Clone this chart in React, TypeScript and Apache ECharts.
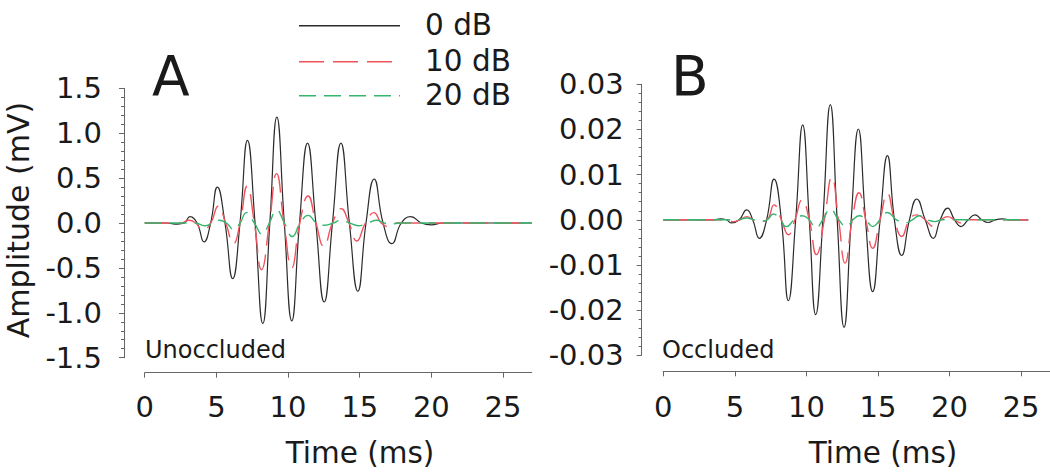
import React, { useEffect, useRef } from 'react';
import * as echarts from 'echarts';

const FONT = '"DejaVu Sans", "Open Sans", sans-serif';

// Panel A (Unoccluded), amplitude in mV
const timeA0 = [0, 1.5, 2.3, 2.75, 3.16, 3.65, 4.14, 4.6, 5.07, 5.6, 6.14, 6.65, 7.17, 7.7, 8.24, 8.73, 9.22, 9.74, 10.26, 10.8, 11.36, 11.94, 12.52, 13.1, 13.69, 14.28, 14.87, 15.44, 16.01, 16.63, 17.25, 17.9, 18.57, 19.3, 20.0, 20.8, 27];
const ampA0 = [0, 0, -0.012, 0, 0.07, 0, -0.21, 0, 0.40, 0, -0.62, 0, 0.92, 0, -1.12, 0, 1.18, 0, -1.09, 0, 0.89, 0, -0.88, 0, 0.89, 0, -0.76, 0, 0.49, 0, -0.23, 0, 0.07, 0, -0.02, 0, 0];

const timeA1 = [0, 2.5, 3.1, 3.55, 4.05, 4.6, 5.14, 5.65, 6.2, 6.65, 7.15, 7.65, 8.15, 8.7, 9.2, 9.72, 10.26, 10.82, 11.4, 11.95, 12.5, 13.1, 13.7, 14.25, 14.8, 15.4, 16.0, 16.5, 17.0, 17.6, 27];
const ampA1 = [0, 0, 0.03, 0, -0.08, 0, 0.19, 0, -0.23, 0, 0.41, 0, -0.52, 0, 0.55, 0, -0.50, 0, 0.30, 0, -0.26, 0, 0.16, 0, -0.20, 0, 0.115, 0, -0.04, 0, 0];

const timeA2 = [0, 3.5, 4.2, 4.75, 5.2, 5.7, 6.2, 6.65, 7.1, 7.65, 8.2, 8.7, 9.2, 9.75, 10.3, 10.85, 11.4, 12.0, 12.6, 13.15, 13.7, 14.3, 14.9, 15.55, 16.2, 16.7, 17.2, 17.8, 27];
const ampA2 = [0, 0, -0.03, 0, 0.03, 0, -0.07, 0, 0.115, 0, -0.125, 0, 0.145, 0, -0.15, 0, 0.085, 0, -0.025, 0, 0.03, 0, -0.03, 0, 0.03, 0, -0.01, 0, 0];

// Panel B (Occluded)
const timeB0 = [0, 3.5, 4.0, 4.4, 4.78, 5.3, 5.83, 6.25, 6.71, 7.22, 7.74, 8.25, 8.74, 9.25, 9.74, 10.2, 10.65, 11.15, 11.67, 12.15, 12.63, 13.13, 13.63, 14.13, 14.63, 15.15, 15.66, 16.15, 16.66, 17.2, 17.71, 18.3, 18.87, 19.35, 19.87, 20.35, 20.8, 21.3, 21.78, 22.25, 22.7, 23.2, 23.7, 24.2, 25.5];
const ampB0 = [0, 0, 0.0002, 0, -0.0007, 0, 0.0022, 0, -0.0041, 0, 0.0090, 0, -0.0179, 0, 0.0210, 0, -0.0210, 0, 0.0255, 0, -0.0238, 0, 0.0201, 0, -0.0159, 0, 0.0142, 0, -0.0079, 0, 0.0046, 0, -0.0041, 0, 0.0026, 0, -0.0015, 0, 0.0011, 0, -0.0006, 0, 0.0002, 0, 0];

const timeB1 = [0, 4.2, 4.9, 5.35, 5.83, 6.3, 6.75, 7.25, 7.74, 8.25, 8.74, 9.2, 9.7, 10.2, 10.7, 11.25, 11.77, 12.25, 12.7, 13.2, 13.67, 14.15, 14.63, 15.15, 15.66, 16.15, 16.66, 17.2, 17.71, 18.3, 18.87, 19.4, 19.87, 20.35, 20.8, 21.3, 25.5];
const ampB1 = [0, 0, -0.0004, 0, 0.0007, 0, -0.0004, 0, 0.0033, 0, -0.0033, 0, 0.0044, 0, -0.0077, 0, 0.0094, 0, -0.0096, 0, 0.0060, 0, -0.0063, 0, 0.0058, 0, -0.0037, 0, 0.0011, 0, -0.0015, 0, 0.0007, 0, -0.0007, 0, 0];

const timeB2 = [0, 5.2, 5.83, 6.3, 6.75, 7.25, 7.7, 8.15, 8.6, 9.15, 9.7, 10.2, 10.65, 11.15, 11.67, 12.25, 12.8, 13.25, 13.7, 14.15, 14.63, 15.15, 15.66, 16.3, 16.9, 17.4, 17.9, 18.45, 19.0, 19.5, 25.5];
const ampB2 = [0, 0, 0.0004, 0, -0.0003, 0, 0.0013, 0, -0.0015, 0, 0.0009, 0, -0.0018, 0, 0.0024, 0, -0.0015, 0, 0.0009, 0, -0.0015, 0, 0.0016, 0, -0.0007, 0, 0.0009, 0, -0.0004, 0, 0];

const seriesNames = ['0 dB', '10 dB', '20 dB'];
const seriesColors = ['#2b2b2b', '#f0535d', '#36b56f'];
const seriesDashes: any[] = ['solid', [25, 9], [17, 8]];
const xTicks = [0, 5, 10, 15, 20, 25];
const panelLetters = ['A', 'B'];
const panelNotes = ['Unoccluded', 'Occluded'];
const xTitle = 'Time (ms)';
const yTitle = 'Amplitude (mV)';

const pairs = (t: number[], v: number[]) => t.map((x, i) => [x, v[i]]);

const panelData = [
  [pairs(timeA0, ampA0), pairs(timeA1, ampA1), pairs(timeA2, ampA2)],
  [pairs(timeB0, ampB0), pairs(timeB1, ampB1), pairs(timeB2, ampB2)],
];

const AXIS_COLOR = '#666';
const TEXT_COLOR = '#1a1a1a';

function makeX(gridIndex: number, offset: number, margin: number) {
  return {
    type: 'value',
    gridIndex,
    min: 0,
    max: 27,
    interval: 5,
    position: 'bottom',
    offset,
    axisLine: { show: true, onZero: false, lineStyle: { color: AXIS_COLOR, width: 1 } },
    axisTick: { show: true, customValues: xTicks, length: 5, lineStyle: { color: AXIS_COLOR } },
    axisLabel: { customValues: xTicks, margin, fontSize: 29, fontFamily: FONT, color: TEXT_COLOR },
    splitLine: { show: false },
  };
}

function makeY(gridIndex: number, min: number, max: number, interval: number, digits: number, offset: number, margin: number) {
  return {
    type: 'value',
    gridIndex,
    min,
    max,
    interval,
    position: 'left',
    offset,
    axisLine: { show: true, onZero: false, lineStyle: { color: AXIS_COLOR, width: 1 } },
    axisTick: { show: true, length: 5, lineStyle: { color: AXIS_COLOR } },
    minorTick: { show: true, splitNumber: 5, length: 3, lineStyle: { color: AXIS_COLOR } },
    axisLabel: {
      margin,
      fontSize: 29,
      fontFamily: FONT,
      color: TEXT_COLOR,
      formatter: (v: number) => (Math.abs(v) < 1e-9 ? 0 : v).toFixed(digits),
    },
    splitLine: { show: false },
  };
}

export default function App() {
  const ref = useRef<HTMLDivElement>(null);

  useEffect(() => {
    if (!ref.current) return;
    const chart = echarts.init(ref.current, null, { renderer: 'svg' });

    const series: any[] = [];
    panelData.forEach((panel, p) => {
      panel.forEach((data, k) => {
        series.push({
          type: 'line',
          name: seriesNames[k],
          xAxisIndex: p,
          yAxisIndex: p,
          data,
          smooth: 0.5,
          symbol: 'none',
          showSymbol: false,
          silent: true,
          lineStyle: { color: seriesColors[k], width: k === 0 ? 1.2 : 1.4, type: seriesDashes[k] },
        });
      });
    });

    const textStyle = (text: string, fontSize: number, align: string) => ({
      text,
      fontSize,
      fontFamily: FONT,
      fill: TEXT_COLOR,
      lineHeight: fontSize,
      align,
      verticalAlign: 'middle',
      textAlign: align,
      textVerticalAlign: 'middle',
    });

    const legendRows = [25.7, 61.7, 95.7];
    const legendTextY = [24.8, 61, 95];
    const graphic: any[] = [];
    seriesNames.forEach((name, k) => {
      graphic.push({
        type: 'line',
        shape: { x1: 299, y1: legendRows[k], x2: 400, y2: legendRows[k] },
        style: { stroke: seriesColors[k], lineWidth: 1.5, lineDash: k === 0 ? null : seriesDashes[k] },
      });
      graphic.push({ type: 'text', x: 425, y: legendTextY[k], style: textStyle(name, 29.5, 'left') });
    });
    const letterX = [152, 671];
    const noteX = [145, 662];
    const xTitleX = [360, 883];
    [0, 1].forEach((p) => {
      graphic.push({ type: 'text', x: letterX[p], y: 76, style: textStyle(panelLetters[p], 55, 'left') });
      graphic.push({ type: 'text', x: noteX[p], y: 350, style: textStyle(panelNotes[p], 24, 'left') });
      graphic.push({ type: 'text', x: xTitleX[p], y: 452.5, style: textStyle(xTitle, 29.5, 'center') });
    });
    graphic.push({
      type: 'text',
      x: 18.5,
      y: 220,
      rotation: Math.PI / 2,
      style: textStyle(yTitle, 30, 'center'),
    });

    chart.setOption({
      animation: false,
      backgroundColor: '#ffffff',
      grid: [
        { left: 144.7, top: 88.3, width: 387, height: 269.4, containLabel: false },
        { left: 663.3, top: 84.3, width: 386.4, height: 271, containLabel: false },
      ],
      xAxis: [makeX(0, 15, 20), makeX(1, 16, 21)],
      yAxis: [makeY(0, -1.5, 1.5, 0.5, 1, 20.7, 22), makeY(1, -0.03, 0.03, 0.01, 2, 21.6, 18)],
      series,
      graphic,
    });

    return () => chart.dispose();
  }, []);

  return <div ref={ref} style={{ position: 'absolute', left: 0, top: 0, width: 1050, height: 472 }} />;
}
